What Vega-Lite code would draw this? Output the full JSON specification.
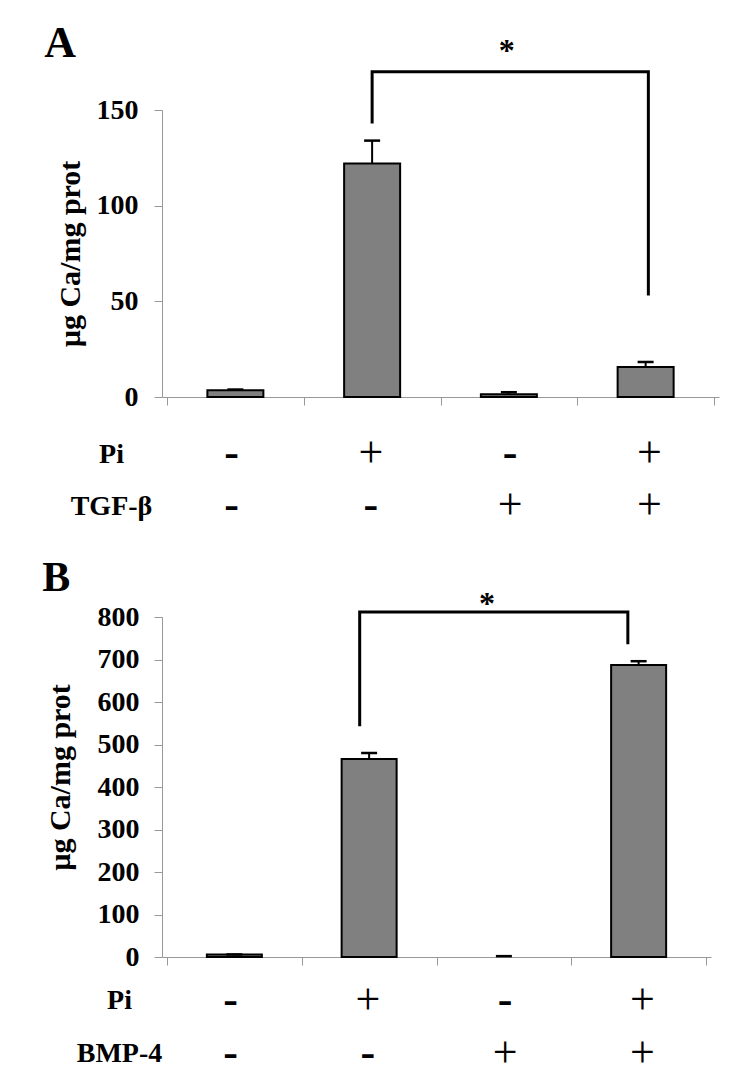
{
  "$schema": "https://vega.github.io/schema/vega-lite/v6.json",
  "background": "white",
  "padding": {"left": 42, "top": 22, "right": 5, "bottom": 0},
  "config": {
    "view": {"stroke": null},
    "font": "Liberation Serif",
    "axis": {"grid": false, "domainColor": "#999999", "tickColor": "#999999", "labelColor": "black", "titleColor": "black", "labelFont": "Liberation Serif", "titleFont": "Liberation Serif"}
  },
  "datasets": {
    "barsA": [
      {"pos": 1, "value": 3.5, "upper": 3.9},
      {"pos": 2, "value": 122, "upper": 134},
      {"pos": 3, "value": 1.5, "upper": 2.5},
      {"pos": 4, "value": 15.7, "upper": 18.3}
    ],
    "bracketA": [
      {"x": 2, "y": 143, "o": 1},
      {"x": 2, "y": 170, "o": 2},
      {"x": 4.02, "y": 170, "o": 3},
      {"x": 4.02, "y": 53, "o": 4}
    ],
    "starA": [{"x": 2.985, "y": 175.6, "label": "*"}],
    "letterA": [{"x": -0.398, "y": 177.7, "label": "A"}],
    "tableA": [
      {"pos": 1, "factor": "Pi", "sign": "-"},
      {"pos": 2, "factor": "Pi", "sign": "+"},
      {"pos": 3, "factor": "Pi", "sign": "-"},
      {"pos": 4, "factor": "Pi", "sign": "+"},
      {"pos": 1, "factor": "TGF-β", "sign": "-"},
      {"pos": 2, "factor": "TGF-β", "sign": "-"},
      {"pos": 3, "factor": "TGF-β", "sign": "+"},
      {"pos": 4, "factor": "TGF-β", "sign": "+"}
    ],
    "barsB": [
      {"pos": 1, "value": 6, "upper": 6},
      {"pos": 2, "value": 466, "upper": 480},
      {"pos": 3, "value": 0, "upper": 2},
      {"pos": 4, "value": 687, "upper": 696}
    ],
    "bracketB": [
      {"x": 1.93, "y": 543, "o": 1},
      {"x": 1.93, "y": 812, "o": 2},
      {"x": 3.92, "y": 812, "o": 3},
      {"x": 3.92, "y": 736, "o": 4}
    ],
    "starB": [{"x": 2.875, "y": 807, "label": "*"}],
    "letterB": [{"x": -0.425, "y": 861, "label": "B"}],
    "tableB": [
      {"pos": 1, "factor": "Pi", "sign": "-"},
      {"pos": 2, "factor": "Pi", "sign": "+"},
      {"pos": 3, "factor": "Pi", "sign": "-"},
      {"pos": 4, "factor": "Pi", "sign": "+"},
      {"pos": 1, "factor": "BMP-4", "sign": "-"},
      {"pos": 2, "factor": "BMP-4", "sign": "-"},
      {"pos": 3, "factor": "BMP-4", "sign": "+"},
      {"pos": 4, "factor": "BMP-4", "sign": "+"}
    ]
  },
  "spacing": 25,
  "vconcat": [
    {
      "spacing": 17,
      "vconcat": [
        {
          "width": 557,
          "height": 287,
          "layer": [
            {
              "data": {"name": "barsA"},
              "mark": {"type": "bar", "width": 56, "fill": "#808080", "stroke": "black", "strokeWidth": 2},
              "encoding": {
                "x": {"field": "pos", "type": "quantitative", "title": null, "scale": {"domain": [0.5, 4.5], "nice": false, "zero": false},
                      "axis": {"values": [0.5, 1.5, 2.5, 3.5, 4.5], "labels": false, "tickSize": 8, "title": null}},
                "y": {"field": "value", "type": "quantitative", "title": "µg Ca/mg prot", "scale": {"domain": [0, 150], "nice": false},
                      "axis": {"values": [0, 50, 100, 150], "tickSize": 8, "labelPadding": 16, "labelFontSize": 28, "labelFontWeight": "bold", "titleFontSize": 30, "titleFontWeight": "bold", "titlePadding": 11}}
              }
            },
            {
              "data": {"name": "barsA"},
              "mark": {"type": "rule", "color": "black", "strokeWidth": 2},
              "encoding": {
                "x": {"field": "pos", "type": "quantitative", "title": null},
                "y": {"field": "value", "type": "quantitative", "title": "µg Ca/mg prot"},
                "y2": {"field": "upper"}
              }
            },
            {
              "data": {"name": "barsA"},
              "mark": {"type": "tick", "orient": "horizontal", "color": "black", "size": 16, "thickness": 2.5, "opacity": 1},
              "encoding": {
                "x": {"field": "pos", "type": "quantitative", "title": null},
                "y": {"field": "upper", "type": "quantitative", "title": "µg Ca/mg prot"}
              }
            },
            {
              "data": {"name": "bracketA"},
              "mark": {"type": "line", "color": "black", "strokeWidth": 3, "strokeJoin": "miter", "strokeCap": "butt"},
              "encoding": {
                "x": {"field": "x", "type": "quantitative", "title": null},
                "y": {"field": "y", "type": "quantitative", "title": "µg Ca/mg prot"},
                "order": {"field": "o", "type": "quantitative"}
              }
            },
            {
              "data": {"name": "starA"},
              "mark": {"type": "text", "font": "Liberation Serif", "fontSize": 32, "fontWeight": "bold", "align": "center", "baseline": "alphabetic", "color": "black"},
              "encoding": {
                "x": {"field": "x", "type": "quantitative", "title": null},
                "y": {"field": "y", "type": "quantitative", "title": "µg Ca/mg prot"},
                "text": {"field": "label"}
              }
            },
            {
              "data": {"name": "letterA"},
              "mark": {"type": "text", "font": "Liberation Serif", "fontSize": 44, "fontWeight": "bold", "align": "left", "baseline": "alphabetic", "color": "black"},
              "encoding": {
                "x": {"field": "x", "type": "quantitative", "title": null},
                "y": {"field": "y", "type": "quantitative", "title": "µg Ca/mg prot"},
                "text": {"field": "label"}
              }
            }
          ]
        },
        {
          "width": 557,
          "height": 104,
          "data": {"name": "tableA"},
          "encoding": {
            "x": {"field": "pos", "type": "quantitative", "scale": {"domain": [0.5, 4.5], "nice": false, "zero": false}, "axis": null},
            "y": {"field": "factor", "type": "nominal", "scale": {"type": "point", "padding": 0.5, "domain": ["Pi", "TGF-β"]},
                  "axis": {"title": null, "domain": false, "ticks": false, "labelAlign": "center", "labelPadding": 51, "labelFontSize": 28, "labelFontWeight": "bold"}},
            "text": {"field": "sign"}
          },
          "layer": [
            {
              "transform": [{"filter": "datum.sign === '+'"}],
              "mark": {"type": "text", "font": "Liberation Serif", "fontSize": 44, "fontWeight": "normal", "baseline": "middle", "color": "black"}
            },
            {
              "transform": [{"filter": "datum.sign === '-'"}],
              "mark": {"type": "text", "font": "Liberation Serif", "fontSize": 44, "fontWeight": "bold", "baseline": "middle", "color": "black"}
            }
          ]
        }
      ]
    },
    {
      "spacing": 3,
      "vconcat": [
        {
          "width": 549,
          "height": 340,
          "layer": [
            {
              "data": {"name": "barsB"},
              "mark": {"type": "bar", "width": 55, "fill": "#808080", "stroke": "black"},
              "encoding": {
                "x": {"field": "pos", "type": "quantitative", "title": null, "scale": {"domain": [0.5, 4.5], "nice": false, "zero": false},
                      "axis": {"values": [0.5, 1.5, 2.5, 3.5, 4.5], "labels": false, "tickSize": 8, "title": null}},
                "y": {"field": "value", "type": "quantitative", "title": "µg Ca/mg prot", "scale": {"domain": [0, 800], "nice": false},
                      "axis": {"values": [0, 100, 200, 300, 400, 500, 600, 700, 800], "tickSize": 8, "labelPadding": 15, "labelFontSize": 28, "labelFontWeight": "bold", "titleFontSize": 30, "titleFontWeight": "bold", "titlePadding": 22, "titleY": 160}},
                "strokeWidth": {"condition": {"test": "datum.value <= 0", "value": 0}, "value": 2}
              }
            },
            {
              "data": {"name": "barsB"},
              "mark": {"type": "rule", "color": "black", "strokeWidth": 2},
              "encoding": {
                "x": {"field": "pos", "type": "quantitative", "title": null},
                "y": {"field": "value", "type": "quantitative", "title": "µg Ca/mg prot"},
                "y2": {"field": "upper"}
              }
            },
            {
              "data": {"name": "barsB"},
              "mark": {"type": "tick", "orient": "horizontal", "color": "black", "size": 16, "thickness": 2.5, "opacity": 1},
              "encoding": {
                "x": {"field": "pos", "type": "quantitative", "title": null},
                "y": {"field": "upper", "type": "quantitative", "title": "µg Ca/mg prot"}
              }
            },
            {
              "data": {"name": "bracketB"},
              "mark": {"type": "line", "color": "black", "strokeWidth": 3, "strokeJoin": "miter", "strokeCap": "butt"},
              "encoding": {
                "x": {"field": "x", "type": "quantitative", "title": null},
                "y": {"field": "y", "type": "quantitative", "title": "µg Ca/mg prot"},
                "order": {"field": "o", "type": "quantitative"}
              }
            },
            {
              "data": {"name": "starB"},
              "mark": {"type": "text", "font": "Liberation Serif", "fontSize": 32, "fontWeight": "bold", "align": "center", "baseline": "alphabetic", "color": "black"},
              "encoding": {
                "x": {"field": "x", "type": "quantitative", "title": null},
                "y": {"field": "y", "type": "quantitative", "title": "µg Ca/mg prot"},
                "text": {"field": "label"}
              }
            },
            {
              "data": {"name": "letterB"},
              "mark": {"type": "text", "font": "Liberation Serif", "fontSize": 42, "fontWeight": "bold", "align": "left", "baseline": "alphabetic", "color": "black"},
              "encoding": {
                "x": {"field": "x", "type": "quantitative", "title": null},
                "y": {"field": "y", "type": "quantitative", "title": "µg Ca/mg prot"},
                "text": {"field": "label"}
              }
            }
          ]
        },
        {
          "width": 549,
          "height": 106,
          "data": {"name": "tableB"},
          "encoding": {
            "x": {"field": "pos", "type": "quantitative", "scale": {"domain": [0.5, 4.5], "nice": false, "zero": false}, "axis": null},
            "y": {"field": "factor", "type": "nominal", "scale": {"type": "point", "padding": 0.5, "domain": ["Pi", "BMP-4"]},
                  "axis": {"title": null, "domain": false, "ticks": false, "labelAlign": "center", "labelPadding": 43, "labelFontSize": 28, "labelFontWeight": "bold"}},
            "text": {"field": "sign"}
          },
          "layer": [
            {
              "transform": [{"filter": "datum.sign === '+'"}],
              "mark": {"type": "text", "font": "Liberation Serif", "fontSize": 44, "fontWeight": "normal", "baseline": "middle", "color": "black"}
            },
            {
              "transform": [{"filter": "datum.sign === '-'"}],
              "mark": {"type": "text", "font": "Liberation Serif", "fontSize": 44, "fontWeight": "bold", "baseline": "middle", "color": "black"}
            }
          ]
        }
      ]
    }
  ]
}
